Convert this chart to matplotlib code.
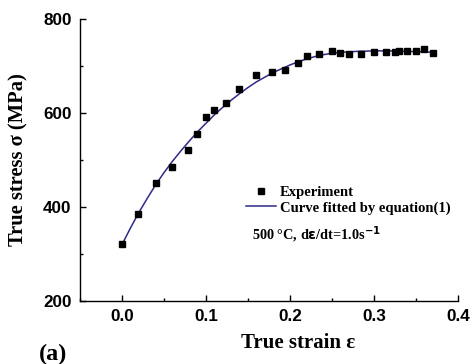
import matplotlib
matplotlib.use("Agg")
import matplotlib.pyplot as plt
from matplotlib.ticker import MultipleLocator
from matplotlib.font_manager import FontProperties

exp_strain = [0.0, 0.0195, 0.04, 0.0595, 0.079, 0.089, 0.0997, 0.1095, 0.124, 0.139,
              0.16, 0.179, 0.1945, 0.21, 0.22, 0.2345, 0.2497, 0.2596, 0.27, 0.285,
              0.2997, 0.3147, 0.3247, 0.33, 0.34, 0.35, 0.3595, 0.37]
exp_stress = [321, 386, 451, 486, 521, 556, 591, 606, 621, 651,
              681, 687, 691, 706, 721, 726, 731, 728, 726, 726,
              729, 729, 729, 731, 732, 732, 735, 728]

fit_strain = [0.0, 0.01, 0.02, 0.03, 0.04, 0.05, 0.06, 0.07, 0.08, 0.09, 0.10, 0.11, 0.12,
              0.13, 0.14, 0.15, 0.16, 0.17, 0.18, 0.19, 0.20, 0.21, 0.22, 0.23, 0.24,
              0.25, 0.26, 0.27, 0.28, 0.30, 0.32, 0.34, 0.36, 0.37]
fit_stress = [320, 355, 388, 418, 447, 473, 497, 519, 540, 560, 578, 596, 612,
              627, 641, 654, 666, 676, 686, 694, 702, 709, 715, 720, 724,
              727, 729, 730, 731, 732, 732, 731, 730, 729]

x_ticks = [0.0, 0.1, 0.2, 0.3, 0.4]
x_tick_labels = ["0.0", "0.1", "0.2", "0.3", "0.4"]
y_ticks = [200, 400, 600, 800]
y_tick_labels = ["200", "400", "600", "800"]

serif_b = dict(family="Liberation Serif", weight="bold")
sans_b = dict(family="Liberation Sans", weight="bold")

fig = plt.figure(figsize=(4.72, 3.64), dpi=100)
ax = fig.add_axes([0.1695, 0.173, 0.8005, 0.775])

ax.plot(fit_strain, fit_stress, color="#2e2a86", lw=1.1, label="Curve fitted by equation(1)", zorder=2)
ax.plot(exp_strain, exp_stress, ls="none", marker="s", ms=5, color="black", label="Experiment", zorder=3)

ax.set_xlim(-0.05, 0.4)
ax.set_ylim(200, 800)
ax.set_xticks(x_ticks)
ax.set_xticklabels(x_tick_labels)
ax.set_yticks(y_ticks)
ax.set_yticklabels(y_tick_labels)
ax.xaxis.set_minor_locator(MultipleLocator(0.05))
ax.yaxis.set_minor_locator(MultipleLocator(100))
ax.tick_params(which="major", direction="in", length=4, width=1)
ax.tick_params(axis="x", which="major", pad=6)
ax.tick_params(axis="y", which="major", pad=6)
ax.tick_params(which="minor", direction="in", length=2.5, width=1)
fp = FontProperties(size=12.3, **sans_b)
for lab in ax.get_xticklabels() + ax.get_yticklabels():
    lab.set_fontproperties(fp)

for s in ["top", "right"]:
    ax.spines[s].set_visible(False)
for s in ["left", "bottom"]:
    ax.spines[s].set_linewidth(1)

ax.set_xlabel("True strain ε", fontsize=15, **serif_b)
ax.xaxis.set_label_coords(0.577, -0.113)
ax.set_ylabel("True stress σ (MPa)", fontsize=14.8, **serif_b)
ax.yaxis.set_label_coords(-0.1376, 0.5)

handles, labels = ax.get_legend_handles_labels()
leg = ax.legend(handles[::-1], labels[::-1], loc="upper left", bbox_to_anchor=(0.416, 0.44),
                frameon=False, prop=dict(size=10.5, **serif_b), handlelength=2.05,
                handletextpad=0.3, labelspacing=0.15, borderpad=0.1)

ax.text(0.455, 0.234, r"500 °C, d$\mathbf{\varepsilon}$/dt=1.0s$^{\mathbf{-1}}$", transform=ax.transAxes,
        fontsize=10.3, va="center", **serif_b)

fig.text(0.082, 0.012, "(a)", fontsize=17.5, **serif_b)

fig.savefig("out.png", dpi=100)
